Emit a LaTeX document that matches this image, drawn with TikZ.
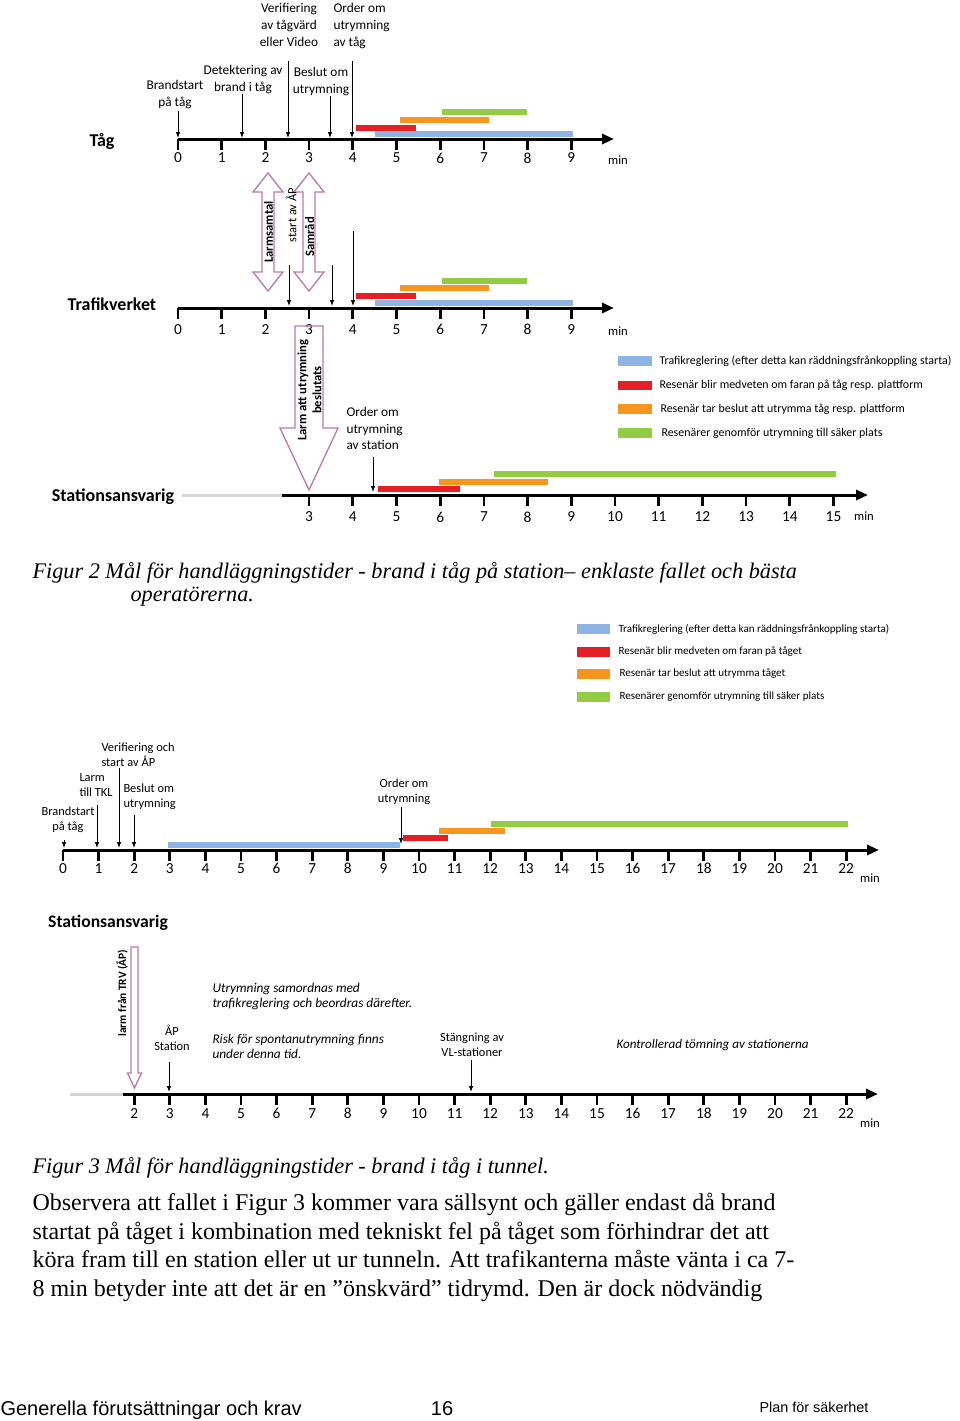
\documentclass[tikz,border=0pt]{standalone}
\usepackage{fontspec}
\setmainfont{Carlito}
\newfontfamily\capfont{Liberation Serif}
\newfontfamily\footfont{Liberation Sans}
\usetikzlibrary{arrows.meta}

\definecolor{barblue}{RGB}{142,180,227}
\definecolor{barred}{RGB}{228,31,38}
\definecolor{barorange}{RGB}{247,150,30}
\definecolor{bargreen}{RGB}{146,204,66}
\definecolor{mauve}{RGB}{184,122,170}
\definecolor{pregray}{RGB}{212,212,212}

\tikzset{every picture/.style={line width=0.75pt}}
\tikzset{
  axisline/.style={line width=2.25pt,-{Triangle[length=9pt,width=7.5pt]}},
  axtick/.style={line width=2pt},
  bar/.style={line width=4.5pt},
  annarrow/.style={-{Latex[length=4.5pt,width=3.5pt]},line width=0.75pt},
  hollow/.style={draw=mauve,line width=1pt,line join=miter},
  note/.style={inner sep=0pt,align=center,font=\fontsize{10}{12.5}\selectfont},
  smallnote/.style={inner sep=0pt,align=left,font=\fontsize{9.3}{11.2}\selectfont},
  axnum/.style={inner sep=0pt,font=\fontsize{11.5}{13}\selectfont},
  lane/.style={inner sep=0pt,font=\fontsize{13.5}{15}\selectfont\bfseries},
  legtext/.style={inner sep=0pt,anchor=west,font=\fontsize{8.95}{10}\selectfont},
  swatch/.style={line width=7pt},
}

\begin{document}
\begin{tikzpicture}[x=0.75pt,y=0.75pt,yscale=-1,xscale=1]
\useasboundingbox (0,0) rectangle (960,1421);

%%%%%%%% Figur 2 %%%%%%%%
% Lane: Tag
\node[lane] (tag) at (102,141) {Tåg};
\draw[axisline] (178,139) -- (614,139);
\foreach \t in {0,...,9} {
  \draw[axtick] ({178+43.7*\t},139) -- ({178+43.7*\t},150);
  \node[axnum] (tagnum\t) at ({178+43.7*\t},158) {\t};
}
\node[inner sep=0pt,font=\fontsize{9.5}{11}\selectfont] (tagmin) at (618,160) {min};
%Bars
\draw[bar,barblue] (375,134) -- (573,134);
\draw[bar,barred] (356,127.5) -- (416,127.5);
\draw[bar,barorange] (400,119.5) -- (489,119.5);
\draw[bar,bargreen] (442,112) -- (527,112);
% Text Node
\node[note] (brand) at (175,94.5) {Brandstart\\på tåg};
\node[note] (detekt) at (243,79.5) {Detektering av\\brand i tåg};
\node[note] (verif) at (289,25) {Verifiering\\av tågvärd\\eller Video};
\node[note] (beslut) at (321,81.5) {Beslut om\\utrymning};
\node[note,align=left,anchor=west] (ordertag) at (333,26) {Order om\\utrymning\\av tåg};
\draw[annarrow] (178,111) -- (178,138);
\draw[annarrow] (242,94) -- (242,138);
\draw[annarrow] (288,61) -- (288,138);
\draw[annarrow] (330,96) -- (330,138);
\draw[annarrow] (352,61) -- (352,138);

% Lane: Trafikverket
\node[lane] (trv) at (112,304) {Trafikverket};
\draw[axisline] (178,308) -- (614,308);
\foreach \t in {0,...,9} {
  \draw[axtick] ({178+43.7*\t},308) -- ({178+43.7*\t},319);
  \node[axnum] (trvnum\t) at ({178+43.7*\t},329.5) {\t};
}
\node[inner sep=0pt,font=\fontsize{9.5}{11}\selectfont] (trvmin) at (618,331) {min};
%Bars
\draw[bar,barblue] (375,303) -- (573,303);
\draw[bar,barred] (356,296) -- (416,296);
\draw[bar,barorange] (400,288) -- (489,288);
\draw[bar,bargreen] (442,281) -- (527,281);
\draw[annarrow] (289,265) -- (289,306);
\draw[annarrow] (332,265) -- (332,306);
\draw[annarrow] (353,231) -- (353,306);
%Shape: Double Arrow [Larmsamtal]
\draw[hollow] (268,173) -- (283,192) -- (274,192) -- (274,272) -- (283,272) -- (268,291) -- (253,272) -- (262,272) -- (262,192) -- (253,192) -- cycle;
%Shape: Double Arrow [Samrad]
\draw[hollow] (309,173) -- (324,192) -- (315,192) -- (315,272) -- (324,272) -- (309,291) -- (294,272) -- (303,272) -- (303,192) -- (294,192) -- cycle;
\node[inner sep=0pt,rotate=90,font=\fontsize{9.5}{11}\selectfont\bfseries] (larmsamtal) at (268.5,232) {Larmsamtal};
\node[inner sep=0pt,rotate=90,font=\fontsize{9.5}{11}\selectfont\bfseries] (samrad) at (309.5,237) {Samråd};
\node[inner sep=0pt,rotate=90,font=\fontsize{9.4}{11}\selectfont] (startap) at (291,215) {start av ÅP};
%Shape: Down Arrow [Larm att utrymning]
\draw[hollow] (295,326) -- (323,326) -- (323,428) -- (338,428) -- (309,490) -- (280,428) -- (295,428) -- cycle;
\node[inner sep=0pt,rotate=90,align=center,font=\fontsize{9.5}{11.3}\selectfont\bfseries] (larmutr) at (309.5,390) {Larm att utrymning\\beslutats};

% Lane: Stationsansvarig
\node[lane] (station) at (113,497) {Stationsansvarig};
\draw[pregray,line width=2.25pt] (182,495) -- (282,495);
\draw[axisline] (282,495) -- (868,495);
\foreach \t in {3,...,15} {
  \draw[axtick] ({178+43.7*\t},495) -- ({178+43.7*\t},506);
  \node[axnum] (stnum\t) at ({178+43.7*\t},517) {\t};
}
\node[inner sep=0pt,font=\fontsize{9.5}{11}\selectfont] (stmin) at (864,516) {min};
%Bars
\draw[bar,barred] (378,489) -- (460,489);
\draw[bar,barorange] (439,482) -- (548,482);
\draw[bar,bargreen] (494,474) -- (836,474);
\node[note,align=left,anchor=west] (orderst) at (346,428.5) {Order om\\utrymning\\av station};
\draw[annarrow] (373,457) -- (373,492);

% Legend 1
\draw[swatch,barblue] (618,361) -- (652,361);
\draw[swatch,barred] (618,385.5) -- (652,385.5);
\draw[swatch,barorange] (618,409) -- (652,409);
\draw[swatch,bargreen] (618,433) -- (652,433);
\node[legtext] (leg1a) at (659,361) {Trafikreglering (efter detta kan räddningsfrånkoppling starta)};
\node[legtext] (leg1b) at (659,385.5) {Resenär blir medveten om faran på tåg resp. plattform};
\node[legtext] (leg1c) at (660,409) {Resenär tar beslut att utrymma tåg resp. plattform};
\node[legtext] (leg1d) at (661,433) {Resenärer genomför utrymning till säker plats};

% Caption
\node[inner sep=0pt,anchor=base west,font=\capfont\itshape\fontsize{16.7}{19}\selectfont] (cap2a) at (32,578) {Figur 2 Mål för handläggningstider - brand i tåg på station– enklaste fallet och bästa};
\node[inner sep=0pt,anchor=base west,font=\capfont\itshape\fontsize{16.7}{19}\selectfont] (cap2b) at (130,601) {operatörerna.};

% Legend 2
\draw[swatch,barblue] (577,629) -- (610,629);
\draw[swatch,barred] (577,652) -- (610,652);
\draw[swatch,barorange] (577,674) -- (610,674);
\draw[swatch,bargreen] (577,697) -- (610,697);
\node[legtext,font=\fontsize{8.3}{9.5}\selectfont] (leg2a) at (618,629) {Trafikreglering (efter detta kan räddningsfrånkoppling starta)};
\node[legtext,font=\fontsize{8.3}{9.5}\selectfont] (leg2b) at (618,652) {Resenär blir medveten om faran på tåget};
\node[legtext,font=\fontsize{8.3}{9.5}\selectfont] (leg2c) at (619,674) {Resenär tar beslut att utrymma tåget};
\node[legtext,font=\fontsize{8.3}{9.5}\selectfont] (leg2d) at (619,697) {Resenärer genomför utrymning till säker plats};

%%%%%%%% Figur 3 %%%%%%%%
% Lane: train
\draw[axisline] (63,850) -- (879,850);
\foreach \t in {0,...,22} {
  \draw[axtick] ({63+35.6*\t},850) -- ({63+35.6*\t},861);
  \node[axnum] (tunum\t) at ({63+35.6*\t},868.5) {\t};
}
\node[inner sep=0pt,font=\fontsize{9.5}{11}\selectfont] (tumin) at (870,878) {min};
%Bars
\draw[bar,barblue] (168,844.5) -- (400,844.5);
\draw[bar,barred] (403,838) -- (448,838);
\draw[bar,barorange] (439,831) -- (505,831);
\draw[bar,bargreen] (491,824) -- (848,824);
% Text Node
\node[smallnote,align=center] (brand3) at (68,820) {Brandstart\\på tåg};
\node[smallnote,anchor=west] (larmtkl) at (79,785) {Larm\\till TKL};
\node[smallnote,anchor=west] (verif3) at (101,754.5) {Verifiering och\\start av ÅP};
\node[smallnote,anchor=west] (beslut3) at (123,797) {Beslut om\\utrymning};
\node[smallnote,align=center] (order3) at (404,791.5) {Order om\\utrymning};
\draw[annarrow] (64,840) -- (64,848);
\draw[annarrow] (97,805) -- (97,848);
\draw[annarrow] (119,768) -- (119,848);
\draw[annarrow] (134,815) -- (134,848);
\draw[annarrow] (401,807) -- (401,844);

% Lane: Stationsansvarig
\node[lane,font=\fontsize{13.2}{15}\selectfont\bfseries] (station3) at (108,923) {Stationsansvarig};
\draw[pregray,line width=2.25pt] (70,1094) -- (123,1094);
\draw[axisline] (123,1094) -- (878,1094);
\foreach \t in {2,...,22} {
  \draw[axtick] ({63+35.6*\t},1094) -- ({63+35.6*\t},1105);
  \node[axnum] (stunum\t) at ({63+35.6*\t},1113.5) {\t};
}
\node[inner sep=0pt,font=\fontsize{9.5}{11}\selectfont] (stumin) at (870,1123) {min};
%Shape: Down Arrow [larm fran TRV]
\draw[hollow] (131,947) -- (138,947) -- (138,1073) -- (141.5,1073) -- (134.5,1088) -- (127.5,1073) -- (131,1073) -- cycle;
\node[inner sep=0pt,rotate=90,font=\fontsize{8.5}{10}\selectfont\bfseries] (larmtrv) at (122,993) {larm från TRV (ÅP)};
\node[smallnote,align=center] (apst) at (172,1038) {ÅP\\Station};
\draw[annarrow] (169,1062) -- (169,1092);
\node[smallnote,anchor=west,font=\fontsize{10}{11.4}\selectfont\itshape] (samord) at (212,996.5) {Utrymning samordnas med\\trafikreglering och beordras därefter.};
\node[smallnote,anchor=west,font=\fontsize{10}{11.4}\selectfont\itshape] (risk) at (212,1046.5) {Risk för spontanutrymning finns\\under denna tid.};
\node[smallnote,align=center] (stangn) at (472,1044.5) {Stängning av\\VL-stationer};
\draw[annarrow] (471,1060) -- (471,1092);
\node[smallnote,anchor=west,font=\fontsize{9.8}{11}\selectfont\itshape] (kontroll) at (616,1045) {Kontrollerad tömning av stationerna};

% Caption and body
\node[inner sep=0pt,anchor=base west,font=\capfont\itshape\fontsize{16.7}{19}\selectfont] (cap3) at (32,1173) {Figur 3 Mål för handläggningstider - brand i tåg i tunnel.};
\node[inner sep=0pt,anchor=base west,font=\capfont\fontsize{18}{21}\selectfont] (body1) at (32,1210) {Observera att fallet i Figur 3 kommer vara sällsynt och gäller endast då brand};
\node[inner sep=0pt,anchor=base west,font=\capfont\fontsize{18}{21}\selectfont] (body2) at (32,1239) {startat på tåget i kombination med tekniskt fel på tåget som förhindrar det att};
\node[inner sep=0pt,anchor=base west,font=\capfont\fontsize{18}{21}\selectfont] (body3) at (32,1267) {köra fram till en station eller ut ur tunneln. Att trafikanterna måste vänta i ca 7-};
\node[inner sep=0pt,anchor=base west,font=\capfont\fontsize{18}{21}\selectfont] (body4) at (32,1296) {8 min betyder inte att det är en ”önskvärd” tidrymd. Den är dock nödvändig};

% Footer
\node[inner sep=0pt,anchor=base west,font=\footfont\fontsize{15}{17}\selectfont] (footl) at (0,1415) {Generella förutsättningar och krav};
\node[inner sep=0pt,anchor=base,font=\footfont\fontsize{15}{17}\selectfont] (footn) at (442,1415) {16};
\node[inner sep=0pt,anchor=base west,font=\footfont\fontsize{10.8}{13}\selectfont] (footr) at (759,1412) {Plan för säkerhet};

\end{tikzpicture}
\end{document}
